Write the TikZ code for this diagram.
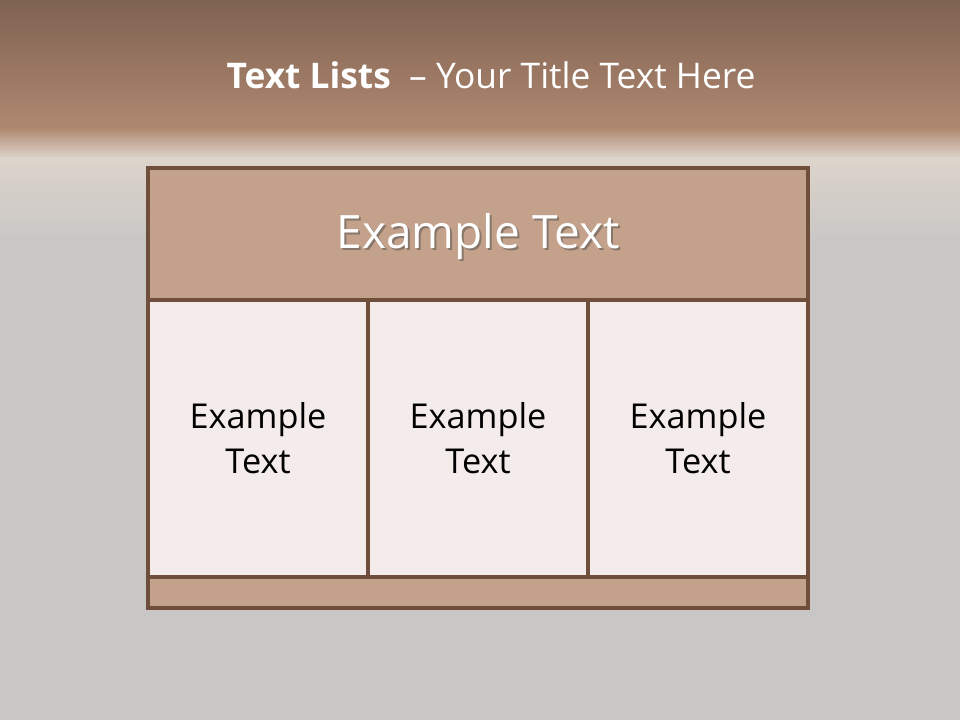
\documentclass[tikz,border=0pt]{standalone}
\usepackage{fontspec}
\setmainfont{Open Sans}
\usetikzlibrary{positioning}
\definecolor{topbrown}{RGB}{126,98,82}
\definecolor{midbrown}{RGB}{176,136,112}
\definecolor{paleband}{RGB}{221,212,203}
\definecolor{slategray}{RGB}{201,199,197}
\definecolor{framebrown}{RGB}{112,78,60}
\definecolor{headfill}{RGB}{196,161,138}
\definecolor{cellfill}{RGB}{244,236,234}

\tikzset{
  frameline/.style={draw=framebrown, line width=2.3pt},
  celltext/.style={align=center, font=\fontsize{25.7}{34}\selectfont, text=black},
  headtext/.style={font=\fontsize{34.5}{40}\selectfont, text=white},
}

\begin{document}
\begin{tikzpicture}[x=0.75pt,y=-0.75pt]

    % =====================
    % Background
    % =====================
    \useasboundingbox (0,0) rectangle (960,720);
    \fill[slategray] (0,0) rectangle (960,720);
    \shade[top color=topbrown, bottom color=midbrown] (0,0) rectangle (960,128);
    \shade[top color=midbrown, bottom color=paleband] (0,128) rectangle (960,158);
    \shade[top color=paleband, bottom color=slategray] (0,158) rectangle (960,240);

    % =====================
    % Title
    % =====================
    \node[text=white, font=\fontsize{26.5}{30}\selectfont] (title) at (491,75)
      {\textbf{Text Lists}\ \ -- Your Title Text Here};

    % =====================
    % Table
    % =====================
    \fill[headfill] (148,168) rectangle (808,300);
    \fill[headfill] (148,577) rectangle (808,608);
    \fill[cellfill] (148,300) rectangle (808,577);
    \draw[frameline] (148,168) rectangle (808,608);
    \draw[frameline] (148,300) -- (808,300);
    \draw[frameline] (148,577) -- (808,577);
    \draw[frameline] (368,300) -- (368,577);
    \draw[frameline] (588,300) -- (588,577);

    \node[headtext, text=black!70, opacity=.5] at (480,239) {Example Text};
    \node[headtext] (head) at (478,237) {Example Text};

    \node[celltext] (left) at (258,438) {Example\\Text};
    \node[celltext] (middle) at (478,438) {Example\\Text};
    \node[celltext] (right) at (698,438) {Example\\Text};

\end{tikzpicture}
\end{document}
